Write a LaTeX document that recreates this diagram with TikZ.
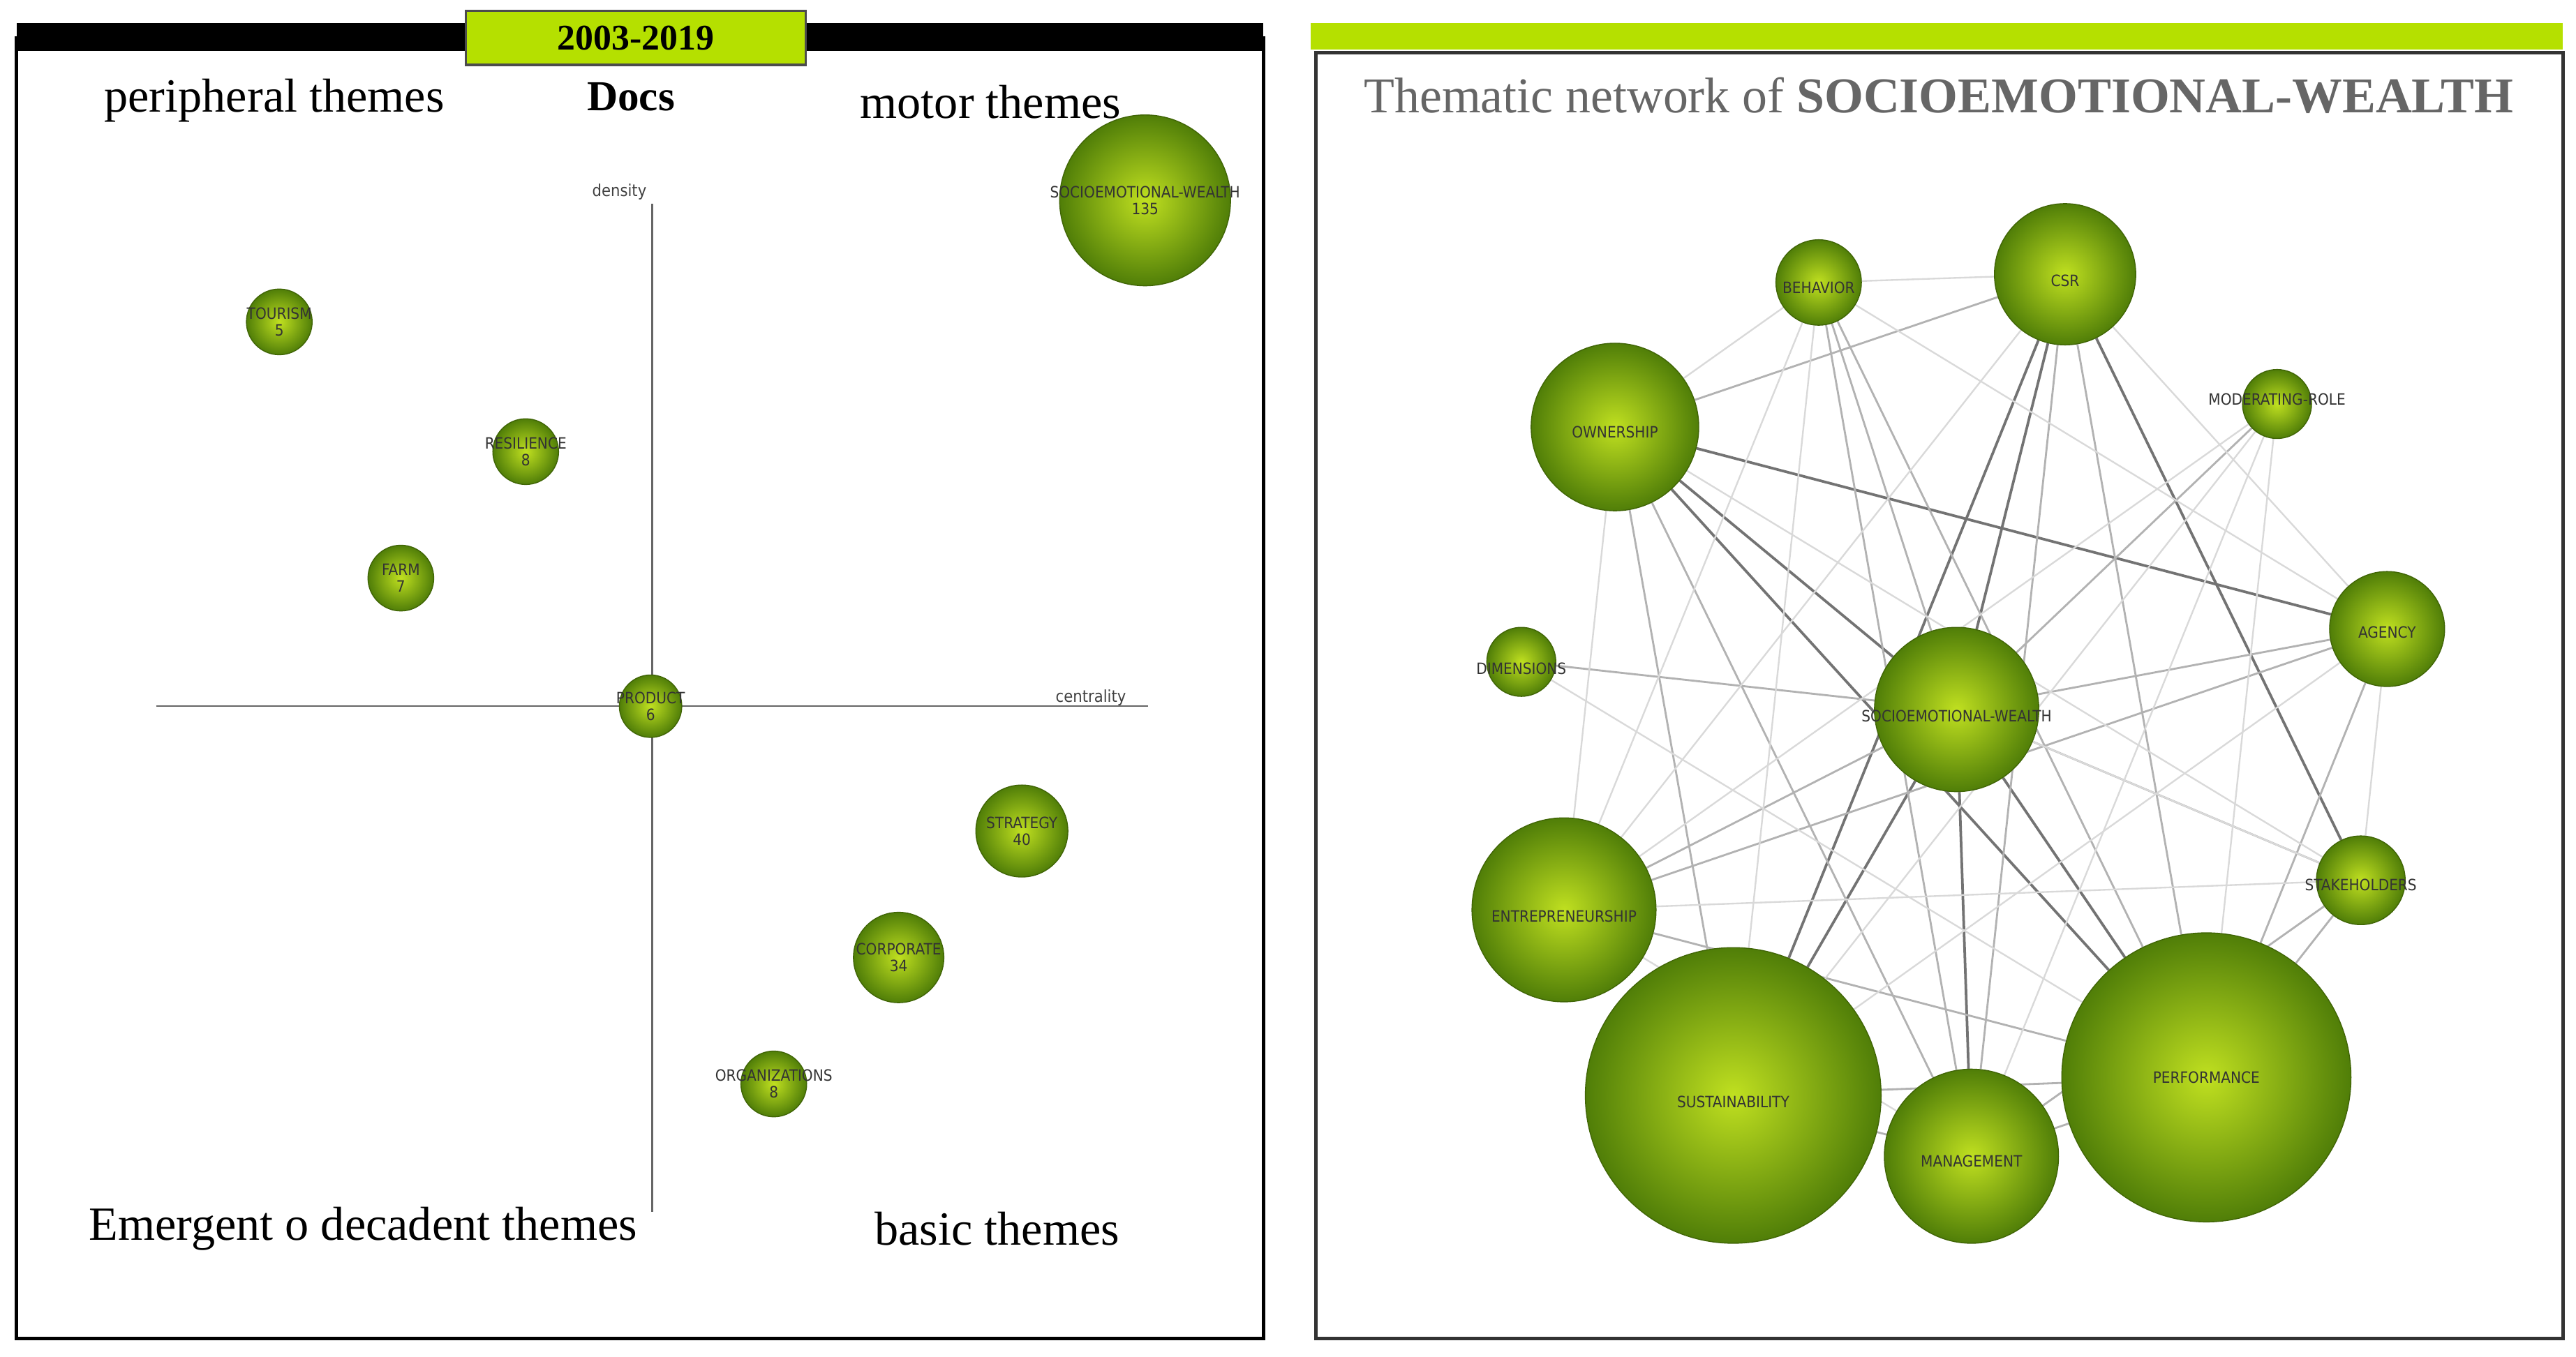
\documentclass[tikz,border=0pt]{standalone}
\usepackage{fontspec}
\setmainfont{Liberation Serif}
\newfontfamily\lab{DejaVu Sans Condensed}
\usetikzlibrary{backgrounds}
\definecolor{lime}{HTML}{B5E000}
\definecolor{ballin}{HTML}{C0E020}
\definecolor{ballout}{HTML}{507E08}
\tikzset{
 x=1pt,y=-1pt,
 ball/.style={circle,draw=ballout!80!black,line width=0.6pt,inner color=ballin,outer color=ballout,minimum size=#1,inner sep=0pt},
 bl/.style={font=\lab\fontsize{9.5}{10}\selectfont,text=black!80,align=center,inner sep=0pt},
 quad/.style={font=\fontsize{29}{31}\selectfont,text=black},
 ax/.style={draw=black!60,line width=1.1pt},
 e1/.style={draw=black!15,line width=1pt},
 e2/.style={draw=black!30,line width=1.2pt},
 e3/.style={draw=black!55,line width=1.6pt},
}
\begin{document}
\begin{tikzpicture}
\begin{scope}[on background layer]
\useasboundingbox[fill=white] (0,0) rectangle (1568,826);
\end{scope}
% left panel frame
\draw[line width=2pt] (10,22) -- (10,815) -- (769,815) -- (769,22);
\fill[black] (10,14) rectangle (769,31);
\node[draw=black!70,fill=lime,line width=1.5pt,minimum width=207,minimum height=33,font=\bfseries\fontsize{22}{24}\selectfont] (yr) at (387,23) {2003-2019};
% right panel frame
\draw[draw=black!80,line width=2pt] (801,32) rectangle (1560,815);
\fill[lime] (798,14) rectangle (1560,30);
\node[font=\fontsize{30.5}{32}\selectfont,text=black!60] (tt) at (1180,58) {Thematic network of \textbf{SOCIOEMOTIONAL-WEALTH}};
% quadrant labels
\node[quad] (q1) at (167,61) {peripheral themes};
\node[quad,font=\bfseries\fontsize{26}{28}\selectfont] (q0) at (384,59) {Docs};
\node[quad] (q2) at (603,62) {motor themes};
\node[quad] (q3) at (221,748) {Emergent o decadent themes};
\node[quad] (q4) at (607,748) {basic themes};
% axes
\coordinate (vt) at (397,124); \coordinate (vb) at (397,738);
\coordinate (hl) at (95,430); \coordinate (hr) at (699,430);
\draw[ax] (vt) -- (vb);
\draw[ax] (hl) -- (hr);
\node[font=\lab\fontsize{10}{10}\selectfont,text=black!75] (dl) at (377,117) {density};
\node[font=\lab\fontsize{10}{10}\selectfont,text=black!75] (cl) at (664,425) {centrality};
% left bubbles
\node[ball=104] (lsw) at (697,122) {};
\node[ball=40] (ltou) at (170,196) {};
\node[ball=40] (lres) at (320,275) {};
\node[ball=40] (lfarm) at (244,352) {};
\node[ball=38] (lprod) at (396,430) {};
\node[ball=56] (lstr) at (622,506) {};
\node[ball=55] (lcor) at (547,583) {};
\node[ball=40] (lorg) at (471,660) {};
\node[bl] at (lsw) {SOCIOEMOTIONAL-WEALTH\\135};
\node[bl] at (ltou) {TOURISM\\5};
\node[bl] at (lres) {RESILIENCE\\8};
\node[bl] at (lfarm) {FARM\\7};
\node[bl] at (lprod) {PRODUCT\\6};
\node[bl] at (lstr) {STRATEGY\\40};
\node[bl] at (lcor) {CORPORATE\\34};
\node[bl] at (lorg) {ORGANIZATIONS\\8};
% right bubbles
\node[ball=52] (beh) at (1107,172) {};
\node[ball=86] (csr) at (1257,167) {};
\node[ball=42] (mod) at (1386,246) {};
\node[ball=102] (own) at (983,260) {};
\node[ball=70] (agy) at (1453,383) {};
\node[ball=42] (dim) at (926,403) {};
\node[ball=100] (sw) at (1191,432) {};
\node[ball=112] (ent) at (952,554) {};
\node[ball=54] (stk) at (1437,536) {};
\node[ball=180] (sus) at (1055,667) {};
\node[ball=106] (man) at (1200,704) {};
\node[ball=176] (per) at (1343,656) {};
\node[bl] at ([yshift=-3]beh) {BEHAVIOR};
\node[bl] at ([yshift=-4]csr) {CSR};
\node[bl] at (1386,243) {MODERATING-ROLE};
\node[bl] at ([yshift=-3]own) {OWNERSHIP};
\node[bl] at ([yshift=-2]agy) {AGENCY};
\node[bl] at ([yshift=-4]dim) {DIMENSIONS};
\node[bl] at ([yshift=-4]sw) {SOCIOEMOTIONAL-WEALTH};
\node[bl] at ([yshift=-4]ent) {ENTREPRENEURSHIP};
\node[bl] at ([yshift=-3]stk) {STAKEHOLDERS};
\node[bl] at ([yshift=-4]sus) {SUSTAINABILITY};
\node[bl] at ([yshift=-3]man) {MANAGEMENT};
\node[bl] at (per) {PERFORMANCE};
\begin{scope}[on background layer]
\draw[e3] (own) -- (agy);
\draw[e3] (own) -- (sw);
\draw[e3] (own) -- (per);
\draw[e3] (csr) -- (sw);
\draw[e3] (csr) -- (stk);
\draw[e3] (csr) -- (sus);
\draw[e3] (sw) -- (per);
\draw[e3] (sw) -- (sus);
\draw[e3] (sw) -- (man);
\draw[e2] (csr) -- (man);
\draw[e2] (csr) -- (per);
\draw[e2] (own) -- (csr);
\draw[e2] (own) -- (man);
\draw[e2] (own) -- (sus);
\draw[e2] (beh) -- (sw);
\draw[e2] (beh) -- (man);
\draw[e2] (beh) -- (per);
\draw[e2] (agy) -- (sw);
\draw[e2] (agy) -- (ent);
\draw[e2] (agy) -- (per);
\draw[e2] (ent) -- (per);
\draw[e2] (ent) -- (sw);
\draw[e2] (sus) -- (man);
\draw[e2] (man) -- (per);
\draw[e2] (sus) -- (per);
\draw[e2] (stk) -- (per);
\draw[e2] (stk) -- (sw);
\draw[e2] (mod) -- (sw);
\draw[e2] (dim) -- (sw);
\draw[e2] (stk) -- (man);
\draw[e1] (own) -- (beh);
\draw[e1] (own) -- (ent);
\draw[e1] (own) -- (stk);
\draw[e1] (beh) -- (csr);
\draw[e1] (beh) -- (sus);
\draw[e1] (beh) -- (ent);
\draw[e1] (beh) -- (agy);
\draw[e1] (csr) -- (ent);
\draw[e1] (csr) -- (agy);
\draw[e1] (mod) -- (ent);
\draw[e1] (mod) -- (sus);
\draw[e1] (mod) -- (per);
\draw[e1] (mod) -- (man);
\draw[e1] (dim) -- (per);
\draw[e1] (agy) -- (sus);
\draw[e1] (agy) -- (stk);
\draw[e1] (ent) -- (stk);
\draw[e1] (ent) -- (man);
\draw[e1] (sw) -- (stk);
\end{scope}
\end{tikzpicture}
\end{document}
